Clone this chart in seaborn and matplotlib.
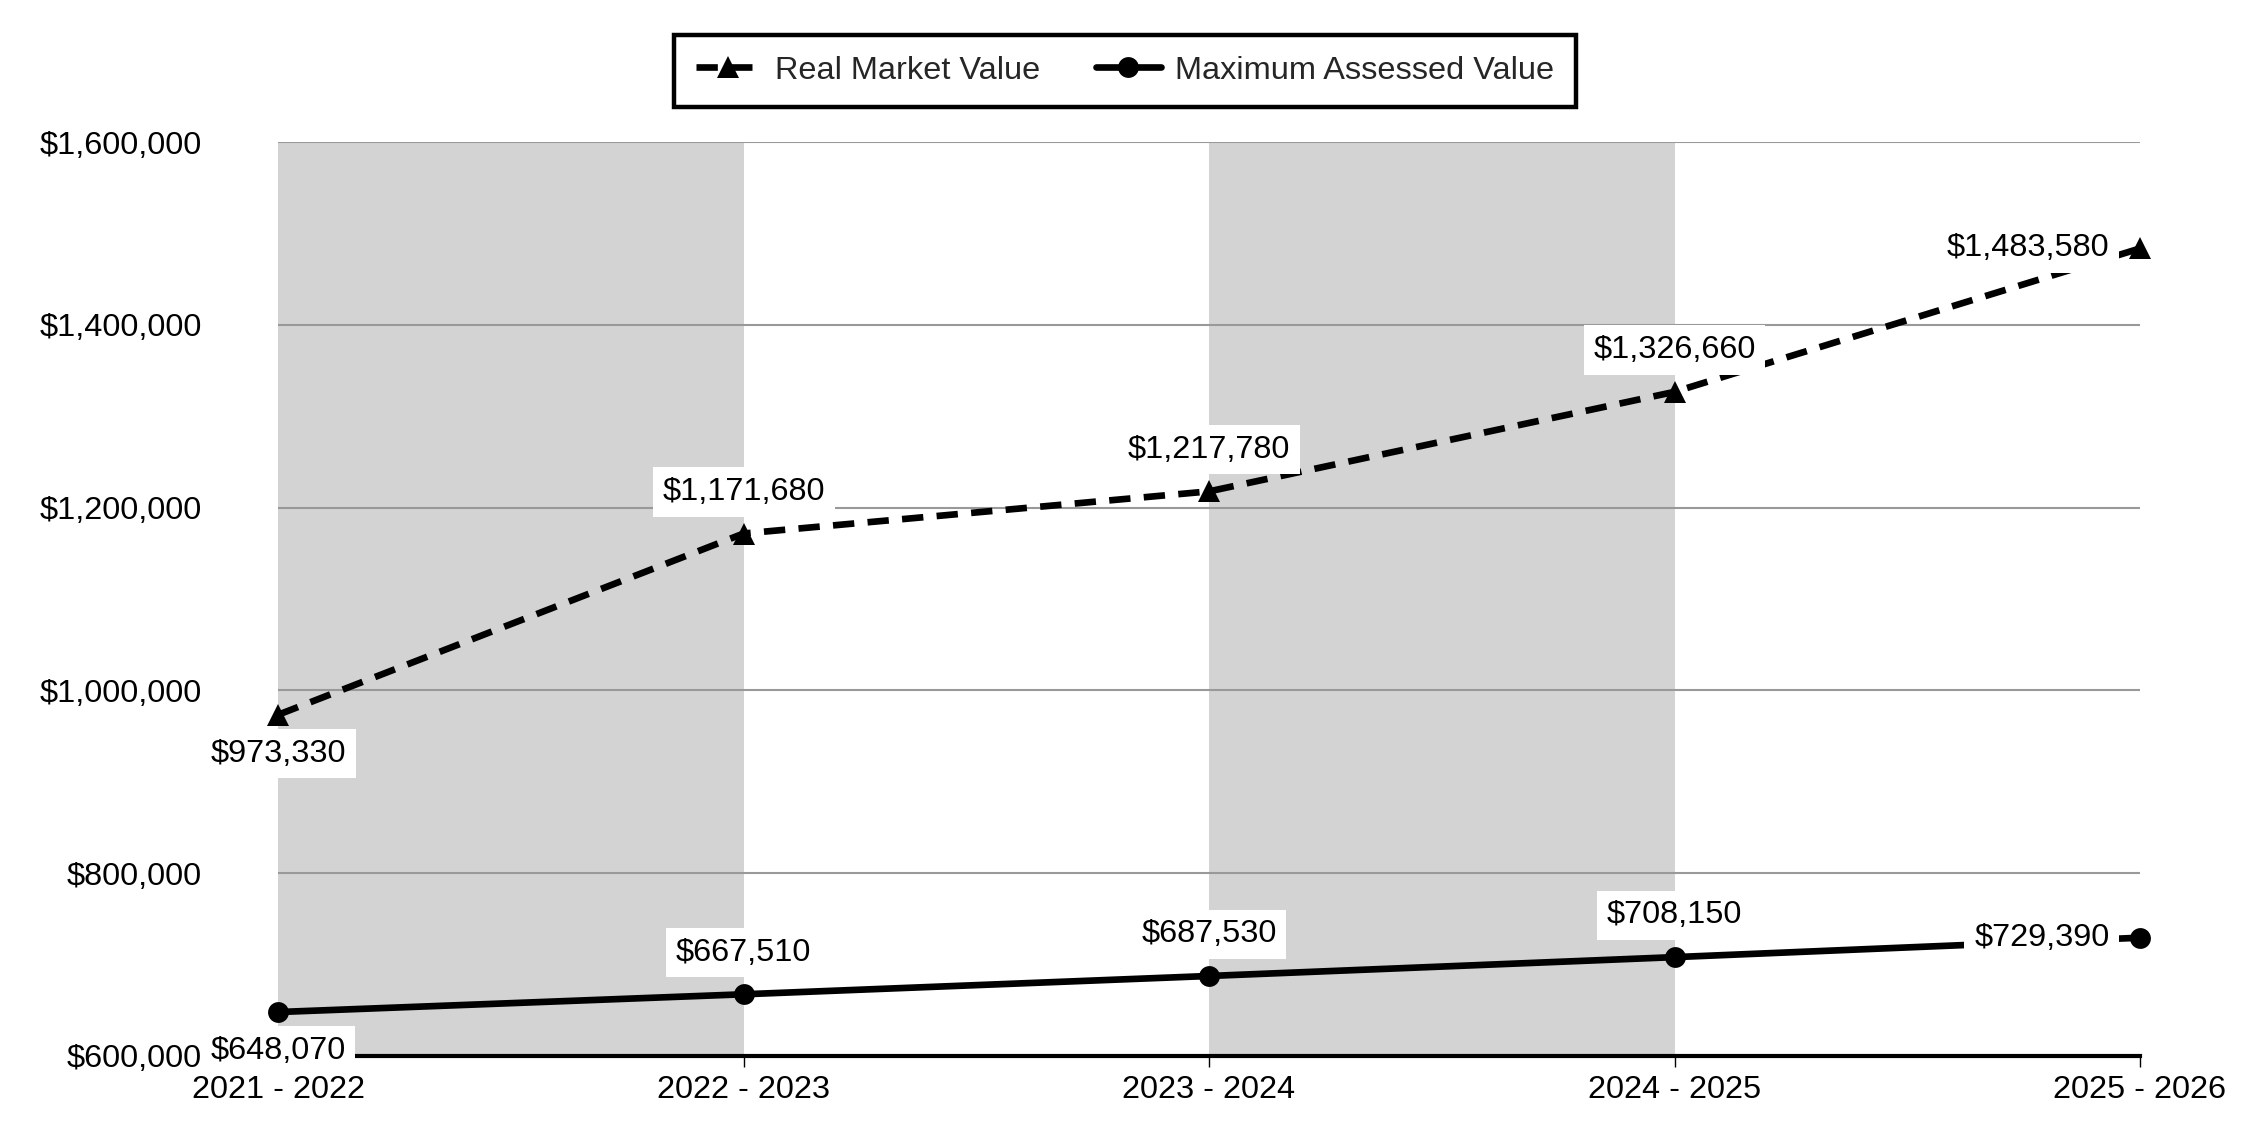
import pandas as pd
import numpy as np
import matplotlib.pyplot as plt
import seaborn as sns

sns.set_theme(style="white")
plt.rcParams['font.family'] = ['Liberation Sans', 'DejaVu Sans']

# -----------------------------
# Data
# -----------------------------
years = ["2021 - 2022", "2022 - 2023", "2023 - 2024", "2024 - 2025", "2025 - 2026"]
real_market = [973330, 1171680, 1217780, 1326660, 1483580]
max_assessed = [648070, 667510, 687530, 708150, 729390]

df = pd.DataFrame({
    'pos': range(len(years)),
    'Year': years,
    'Real Market Value': real_market,
    'Maximum Assessed Value': max_assessed,
})

FS = 23.4

fig = plt.figure(figsize=(22.5, 11.4), dpi=100)
ax = fig.add_axes([0.1236, 0.0737, 0.8275, 0.8017])

# alternating shaded columns
for i in range(0, len(years) - 1, 2):
    ax.axvspan(i, i + 1, color='#d3d3d3', zorder=0, lw=0)

sns.lineplot(data=df, x='pos', y='Real Market Value', ax=ax, color='black',
             linewidth=4.8, marker='^', markersize=16, markeredgecolor='black',
             markeredgewidth=0, label='Real Market Value', zorder=3, clip_on=False)
ax.lines[-1].set_dashes([3.2, 2.0])
sns.lineplot(data=df, x='pos', y='Maximum Assessed Value', ax=ax, color='black',
             linewidth=4.8, marker='o', markersize=15, markeredgecolor='black',
             markeredgewidth=0, label='Maximum Assessed Value', zorder=3, clip_on=False)

# data labels
box = dict(boxstyle='square,pad=0.3', fc='white', ec='none')
for series in [real_market, max_assessed]:
    n = len(series)
    for i, v in enumerate(series):
        txt = f"${v:,.0f}"
        if i == 0:
            off, ha = (0, -28), 'center'
        elif i == n - 1:
            off, ha = (-22, 0), 'right'
        else:
            off, ha = (0, 30), 'center'
        ax.annotate(txt, (i, v), xytext=off, textcoords='offset points',
                    ha=ha, va='center', fontsize=FS, color='black',
                    bbox=box, zorder=5)

# axes styling
ax.set_xlim(0, len(years) - 1)
ax.set_ylim(600000, 1600000)
ax.set_yticks(np.arange(600000, 1600001, 200000))
ax.yaxis.set_major_formatter(plt.FuncFormatter(lambda v, p: f"${v:,.0f}"))
ax.set_xticks(range(len(years)))
ax.set_xticklabels(years)
ax.set_xlabel("")
ax.set_ylabel("")
ax.grid(axis='y', color='#999999', linewidth=1.5, zorder=1)
ax.set_axisbelow(True)
for s in ['top', 'right', 'left']:
    ax.spines[s].set_visible(False)
ax.spines['bottom'].set_color('black')
ax.spines['bottom'].set_linewidth(3)
ax.spines['bottom'].set_zorder(4)
ax.tick_params(axis='x', bottom=True, length=8, width=1, color='black',
               direction='out', pad=6, labelsize=FS, labelcolor='black')
ax.tick_params(axis='y', left=False, length=0, pad=55, labelsize=FS, labelcolor='black')

# legend on top, centered on the figure
ax.get_legend().remove()
handles, labels = ax.get_legend_handles_labels()
leg = fig.legend(handles, labels, loc='center', bbox_to_anchor=(0.5, 0.938),
                 ncol=2, fontsize=FS, frameon=True, fancybox=False,
                 edgecolor='black', framealpha=1, borderpad=0.65,
                 columnspacing=1.7, handlelength=2.0, handletextpad=0.45)
leg.get_frame().set_linewidth(3.2)

plt.savefig("out.png", dpi=100)
